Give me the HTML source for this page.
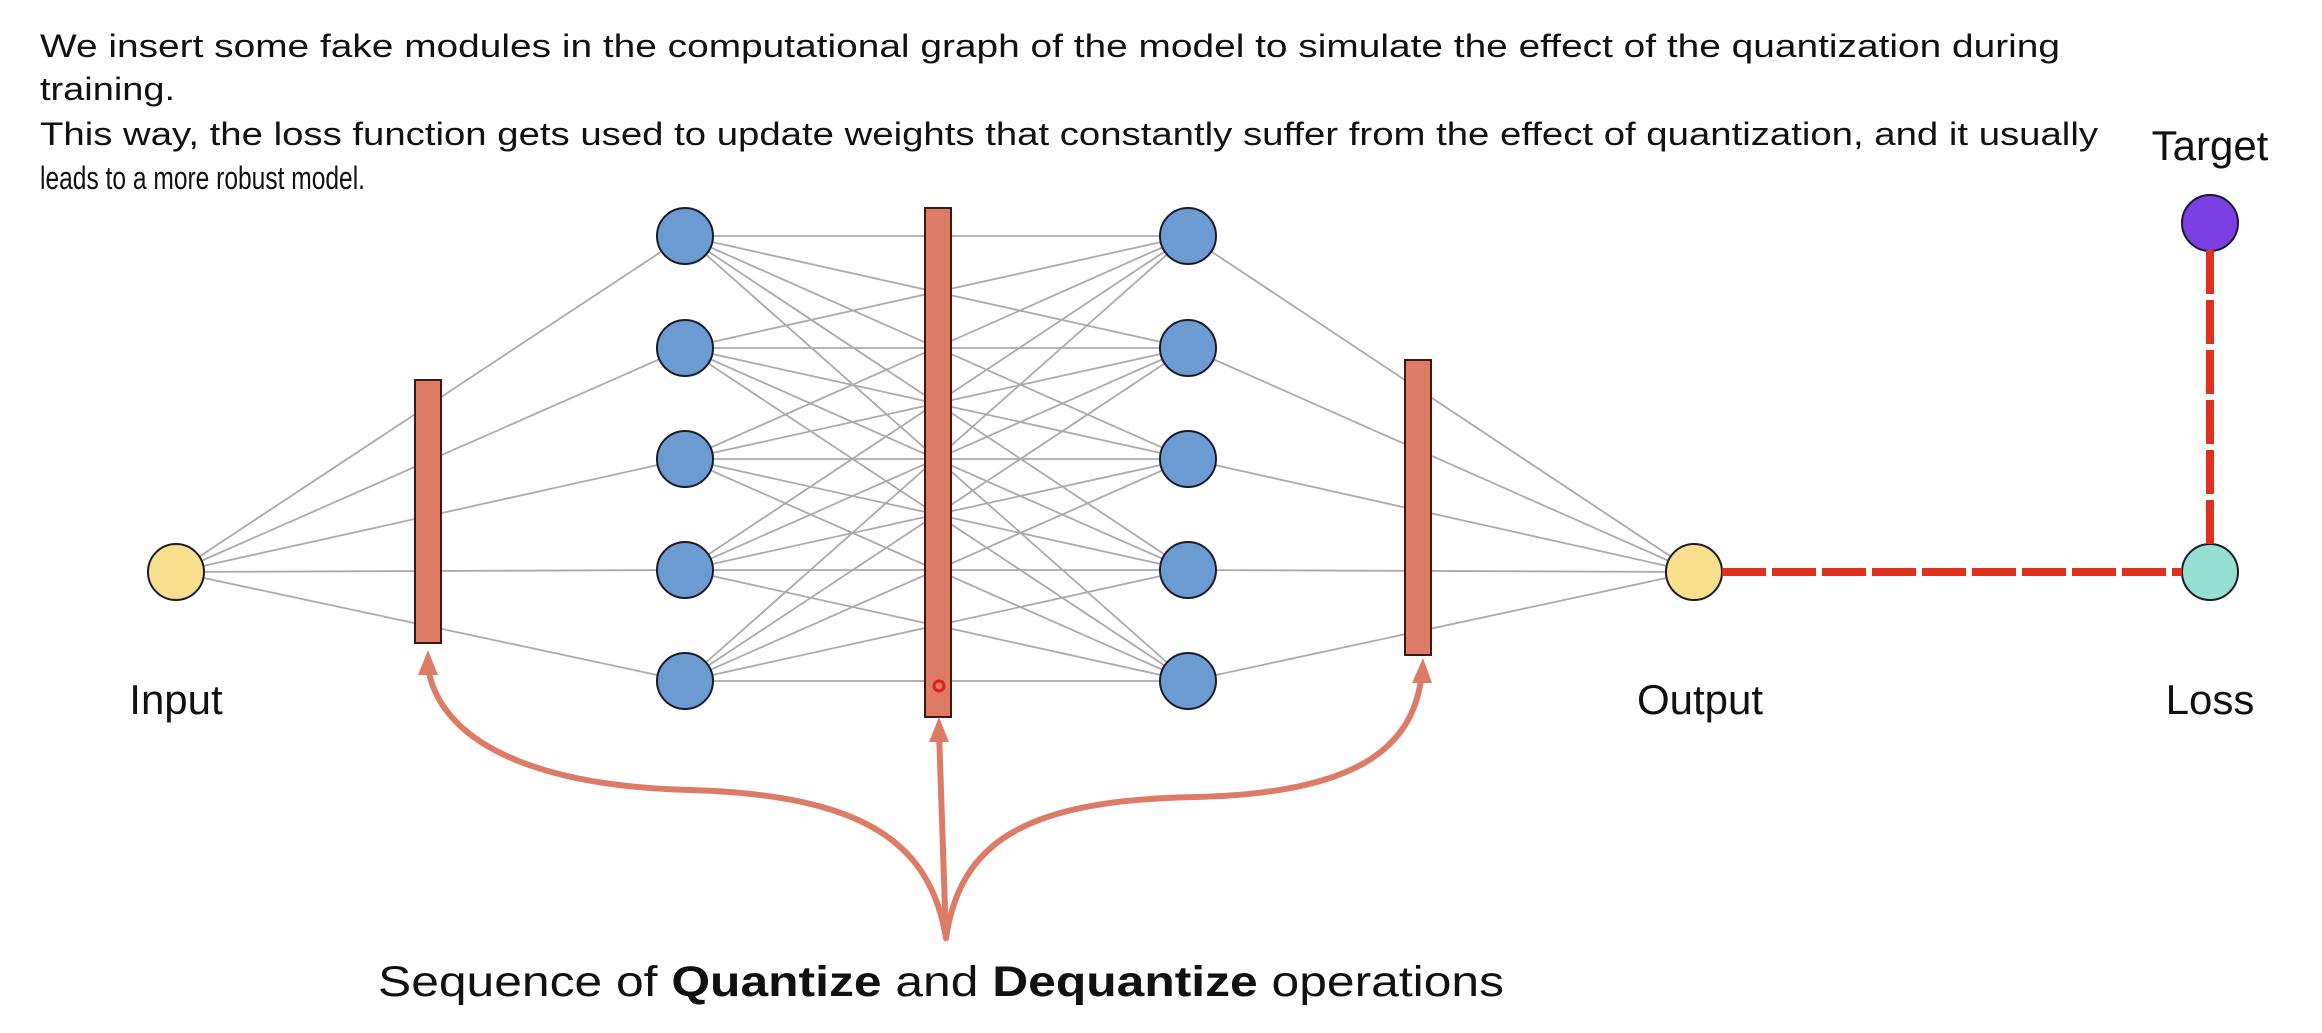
<!DOCTYPE html>
<html><head><meta charset="utf-8"><style>
html,body{margin:0;padding:0;background:#fff;}
svg{display:block;}
text{font-family:"Liberation Sans",sans-serif;fill:#111;}
</style></head><body>
<svg id="svg" width="2322" height="1033" viewBox="0 0 2322 1033" xmlns="http://www.w3.org/2000/svg">
<g font-size="32">
<text x="40" y="57" textLength="2020" lengthAdjust="spacingAndGlyphs">We insert some fake modules in the computational graph of the model to simulate the effect of the quantization during</text>
<text x="40" y="100" textLength="135" lengthAdjust="spacingAndGlyphs">training.</text>
<text x="40" y="145" textLength="2058" lengthAdjust="spacingAndGlyphs">This way, the loss function gets used to update weights that constantly suffer from the effect of quantization, and it usually</text>
<text x="40" y="189" textLength="325" lengthAdjust="spacingAndGlyphs">leads to a more robust model.</text>
</g>
<g id="edges"></g>
<g id="bars"></g>
<g id="nodes"></g>
<g stroke="#e0301e" stroke-width="8" stroke-dasharray="44 6" fill="none">
<line x1="1722" y1="572" x2="2182" y2="572"/>
<line x1="2210" y1="250" x2="2210" y2="545"/>
</g>
<g stroke="#dc7c66" stroke-width="6" fill="none" stroke-linecap="round">
<path d="M946,938 C930,840 860,795 690,790 C530,786 440,740 428,668"/>
<path d="M946,938 L939,732"/>
<path d="M946,938 C960,845 1020,800 1196,797 C1370,793 1415,740 1422,672"/>
</g>
<g fill="#dc7c66">
<polygon points="428,650 418,675 438,675"/>
<polygon points="939,717 929,742 949,742"/>
<polygon points="1423,658 1412,683 1432,683"/>
</g>
<circle cx="939" cy="686" r="5" fill="none" stroke="#e0201e" stroke-width="3"/>
<g font-size="42" text-anchor="middle">
<text x="176" y="714">Input</text>
<text x="1700" y="714">Output</text>
<text x="2210" y="714">Loss</text>
<text x="2210" y="160">Target</text>
</g>
<text x="378" y="996" font-size="43" textLength="1126" lengthAdjust="spacingAndGlyphs">Sequence of <tspan font-weight="bold">Quantize</tspan> and <tspan font-weight="bold">Dequantize</tspan> operations</text>
</svg>
<script>
const layerX = [176, 685, 1188, 1694];
const hiddenY = [236, 348, 459, 570, 681];
const ioY = [572];
const barX = [428, 938, 1418];
const barTop = [380, 208, 360];
const barBottom = [643, 717, 655];
const NS = 'http://www.w3.org/2000/svg';
const edges = document.getElementById('edges');
const nodes = document.getElementById('nodes');
const bars = document.getElementById('bars');
function line(x1,y1,x2,y2){
  const l = document.createElementNS(NS,'line');
  l.setAttribute('x1',x1);l.setAttribute('y1',y1);l.setAttribute('x2',x2);l.setAttribute('y2',y2);
  l.setAttribute('stroke','#aaa');l.setAttribute('stroke-width','1.8');
  
  
  edges.appendChild(l);
}
hiddenY.forEach(y=>line(layerX[0],ioY[0],layerX[1],y));
hiddenY.forEach(y1=>hiddenY.forEach(y2=>line(layerX[1],y1,layerX[2],y2)));
hiddenY.forEach(y=>line(layerX[2],y,layerX[3],ioY[0]));
barX.forEach((x,i)=>{
  const r = document.createElementNS(NS,'rect');
  r.setAttribute('x',x-13);r.setAttribute('y',barTop[i]);r.setAttribute('width',26);r.setAttribute('height',barBottom[i]-barTop[i]);
  r.setAttribute('fill','#dd7b67');r.setAttribute('stroke','#3a1a12');r.setAttribute('stroke-width','2');
  
  
  bars.appendChild(r);
});
function node(x,y,fill,name){
  const c = document.createElementNS(NS,'circle');
  c.setAttribute('cx',x);c.setAttribute('cy',y);c.setAttribute('r',28);
  c.setAttribute('fill',fill);c.setAttribute('stroke','#1a1a2a');c.setAttribute('stroke-width','2');
  
  
  nodes.appendChild(c);
}
node(layerX[0],ioY[0],'#f7df8e','input-node');
hiddenY.forEach(y=>node(layerX[1],y,'#6b9bd1','hidden-node-1'));
hiddenY.forEach(y=>node(layerX[2],y,'#6b9bd1','hidden-node-2'));
node(layerX[3],ioY[0],'#f7df8e','output-node');
node(2210,572,'#97dfd3','loss-node');
node(2210,223,'#7b3fe4','target-node');
</script>
</body></html>
